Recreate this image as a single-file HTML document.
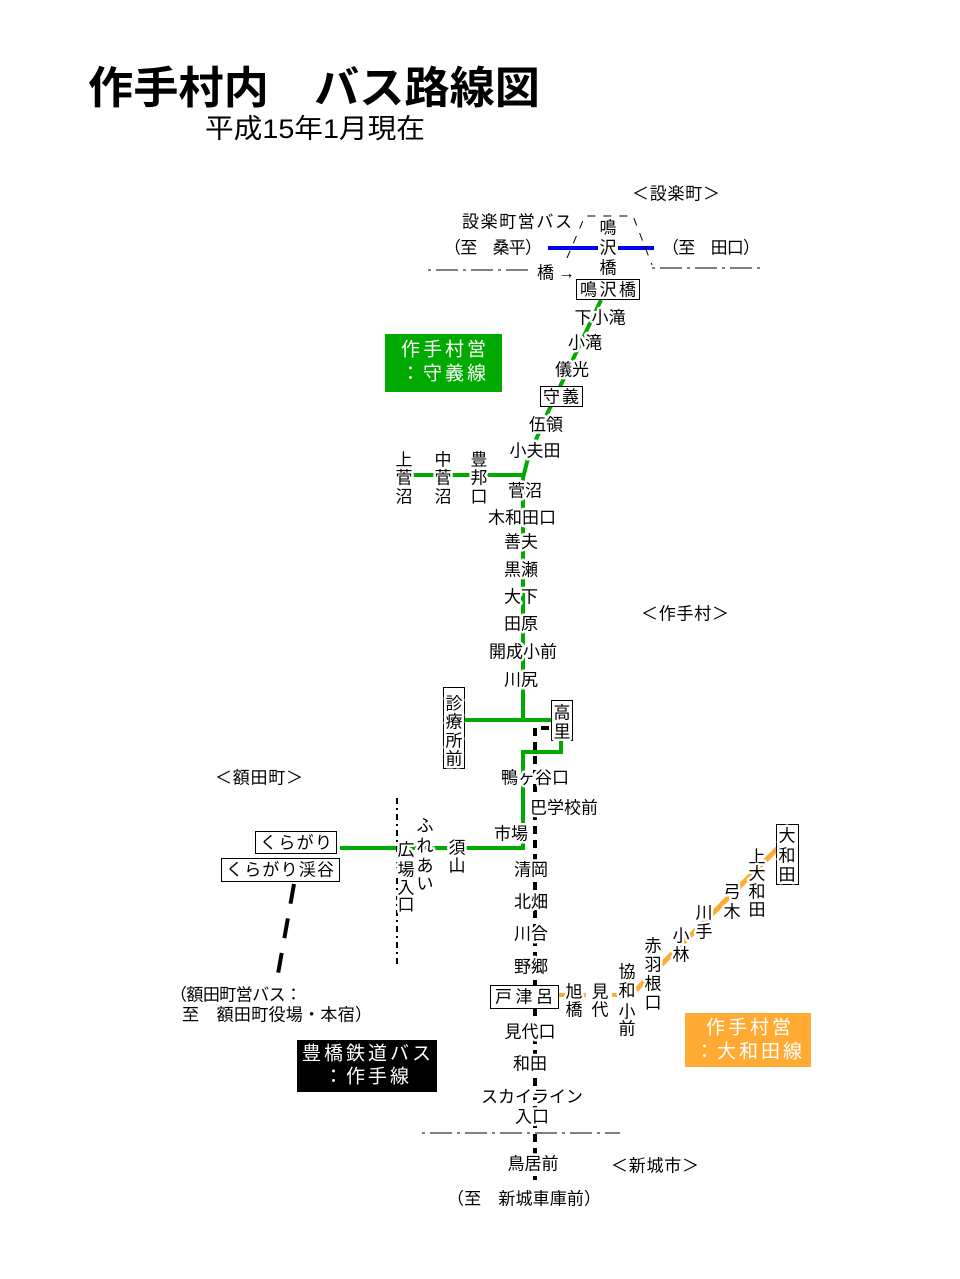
<!DOCTYPE html>
<html><head><meta charset="utf-8"><style>
html,body{margin:0;padding:0;background:#fff;}
svg{display:block;}
text{font-family:"Liberation Sans","Noto Sans CJK JP",sans-serif;fill:#000;}
.l{font-size:17px;text-anchor:middle;dominant-baseline:central;stroke:#fff;stroke-width:5px;paint-order:stroke;stroke-linejoin:round;}
.n{font-size:17px;dominant-baseline:central;}
.w{fill:#fff;font-size:19px;text-anchor:middle;dominant-baseline:central;letter-spacing:3px;}
</style></head><body>
<svg width="960" height="1279" viewBox="0 0 960 1279" xmlns="http://www.w3.org/2000/svg">
<rect width="960" height="1279" fill="#fff"/>
<text x="88" y="103" font-size="44" font-weight="bold" textLength="452" lengthAdjust="spacingAndGlyphs">作手村内　バス路線図</text>
<text x="205" y="138" font-size="27" textLength="220" lengthAdjust="spacingAndGlyphs">平成15年1月現在</text>

<!-- top area -->
<text class="n" x="632" y="194" textLength="88">＜設楽町＞</text>
<text class="n" x="462" y="222" textLength="110">設楽町営バス</text>
<text class="n" x="444" y="248" textLength="98">（至　桑平）</text>
<text class="n" x="662" y="248" textLength="98">（至　田口）</text>
<line x1="548" y1="248" x2="598" y2="248" stroke="#0000ee" stroke-width="4"/>
<line x1="618" y1="248" x2="654" y2="248" stroke="#0000ee" stroke-width="4"/>
<polyline points="567,258 585,216 633,216 652,265" fill="none" stroke="#000" stroke-width="1" stroke-dasharray="8,8"/>
<line x1="652" y1="268" x2="762" y2="268" stroke="#000" stroke-dasharray="3,5,22,5"/>
<line x1="428" y1="270" x2="530" y2="270" stroke="#000" stroke-dasharray="3,5,22,5"/>
<text class="n" x="537" y="273" textLength="38">橋→</text>
<text class="l" x="608" y="228">鳴</text>
<text class="l" x="608" y="248">沢</text>
<text class="l" x="608" y="268">橋</text>

<!-- green line -->
<polyline points="601,300 548,412 528,458 523,478 523,720" fill="none" stroke="#00aa00" stroke-width="4"/>
<line x1="398" y1="475" x2="523" y2="475" stroke="#00aa00" stroke-width="4"/>
<line x1="465" y1="720" x2="552" y2="720" stroke="#00aa00" stroke-width="4"/>
<polyline points="561,740 561,752 523,752 523,848 340,848" fill="none" stroke="#00aa00" stroke-width="4"/>
<!-- black dashed -->
<polyline points="549,728 535,728 535,1180" fill="none" stroke="#000" stroke-width="4" stroke-dasharray="8,6"/>
<line x1="294" y1="884" x2="276" y2="985" stroke="#000" stroke-width="4" stroke-dasharray="20,15"/>
<line x1="397" y1="798" x2="397" y2="965" stroke="#000" stroke-width="2" stroke-dasharray="6,4,2,4"/>
<line x1="422" y1="1133" x2="620" y2="1133" stroke="#000" stroke-dasharray="3,5,22,5"/>
<!-- orange -->
<line x1="558" y1="995" x2="636" y2="995" stroke="#ffaa33" stroke-width="4" stroke-dasharray="10,8"/>
<line x1="636" y1="990" x2="778" y2="848" stroke="#ffaa33" stroke-width="5"/>

<!-- boxes -->
<rect x="576.5" y="279.5" width="63" height="20" fill="#fff" stroke="#000"/>
<text class="n" x="580" y="290" textLength="56">鳴沢橋</text>
<rect x="540.5" y="386.5" width="42" height="20" fill="#fff" stroke="#000"/>
<text class="n" x="543" y="397" textLength="36">守義</text>

<text class="l" x="600" y="318">下小滝</text>
<text class="l" x="585" y="343">小滝</text>
<text class="l" x="572" y="370">儀光</text>
<text class="l" x="546" y="425">伍領</text>
<text class="l" x="535" y="451">小夫田</text>
<text class="l" x="404" y="460">上</text><text class="l" x="404" y="478">菅</text><text class="l" x="404" y="497">沼</text>
<text class="l" x="443" y="460">中</text><text class="l" x="443" y="478">菅</text><text class="l" x="443" y="497">沼</text>
<text class="l" x="479" y="460">豊</text><text class="l" x="479" y="478">邦</text><text class="l" x="479" y="497">口</text>
<text class="l" x="525" y="491">菅沼</text>
<text class="l" x="522" y="518">木和田口</text>
<text class="l" x="521" y="542">善夫</text>
<text class="l" x="521" y="570">黒瀬</text>
<text class="l" x="521" y="597">大下</text>
<text class="l" x="521" y="624">田原</text>
<text class="l" x="523" y="652">開成小前</text>
<text class="l" x="521" y="680">川尻</text>
<rect x="443.5" y="687.5" width="21" height="81" fill="#fff" stroke="#000"/>
<text class="l" x="454" y="704">診</text><text class="l" x="454" y="722">療</text><text class="l" x="454" y="741">所</text><text class="l" x="454" y="759">前</text>
<rect x="551.5" y="700.5" width="21" height="40" fill="#fff" stroke="#000"/>
<text class="l" x="562" y="713">高</text><text class="l" x="562" y="732">里</text>
<text class="l" x="535" y="778">鴨ヶ谷口</text>
<text class="l" x="564" y="808">巴学校前</text>
<text class="l" x="511" y="834">市場</text>
<text class="n" x="641" y="614" textLength="88">＜作手村＞</text>
<text class="n" x="215" y="778" textLength="88">＜額田町＞</text>

<rect x="255.5" y="831.5" width="81" height="22" fill="#fff" stroke="#000"/>
<text class="n" x="260" y="843" textLength="72">くらがり</text>
<rect x="221.5" y="858.5" width="118" height="23" fill="#fff" stroke="#000"/>
<text class="n" x="226" y="870" textLength="108">くらがり渓谷</text>
<text class="l" x="425" y="826">ふ</text><text class="l" x="425" y="846">れ</text><text class="l" x="425" y="866">あ</text><text class="l" x="425" y="884">い</text>
<text class="l" x="406" y="850">広</text><text class="l" x="406" y="870">場</text><text class="l" x="406" y="888">入</text><text class="l" x="406" y="905">口</text>
<text class="l" x="457" y="848">須</text><text class="l" x="457" y="866">山</text>

<text class="l" x="531" y="870">清岡</text>
<text class="l" x="531" y="902">北畑</text>
<text class="l" x="531" y="934">川合</text>
<text class="l" x="531" y="967">野郷</text>
<rect x="490.5" y="985.5" width="68" height="23" fill="#fff" stroke="#000"/>
<text class="n" x="495" y="997" textLength="58">戸津呂</text>
<text class="l" x="530" y="1032">見代口</text>
<text class="l" x="530" y="1064">和田</text>
<text class="l" x="532" y="1097">スカイライン</text>
<text class="l" x="532" y="1117">入口</text>
<text class="l" x="533" y="1164">鳥居前</text>
<text class="n" x="611" y="1166" textLength="88">＜新城市＞</text>
<text class="n" x="447" y="1199" textLength="154">（至　新城車庫前）</text>
<text class="n" x="170" y="995" textLength="132">（額田町営バス：</text>
<text class="n" x="182" y="1015" textLength="190">至　額田町役場・本宿）</text>

<text class="l" x="574" y="992">旭</text><text class="l" x="574" y="1010">橋</text>
<text class="l" x="600" y="992">見</text><text class="l" x="600" y="1010">代</text>
<text class="l" x="627" y="972">協</text><text class="l" x="627" y="991">和</text><text class="l" x="627" y="1012">小</text><text class="l" x="627" y="1029">前</text>
<text class="l" x="653" y="946">赤</text><text class="l" x="653" y="965">羽</text><text class="l" x="653" y="984">根</text><text class="l" x="653" y="1003">口</text>
<text class="l" x="681" y="936">小</text><text class="l" x="681" y="955">林</text>
<text class="l" x="704" y="913">川</text><text class="l" x="704" y="932">手</text>
<text class="l" x="732" y="892">弓</text><text class="l" x="732" y="912">木</text>
<text class="l" x="757" y="857">上</text><text class="l" x="757" y="874">大</text><text class="l" x="757" y="892">和</text><text class="l" x="757" y="910">田</text>
<rect x="776.5" y="824.5" width="22" height="60" fill="#fff" stroke="#000"/>
<text class="l" x="787" y="836">大</text><text class="l" x="787" y="856">和</text><text class="l" x="787" y="875">田</text>

<!-- legends -->
<rect x="385" y="334" width="117" height="58" fill="#00aa00"/>
<text class="w" x="445" y="350">作手村営</text>
<text class="w" x="445" y="374">：守義線</text>
<rect x="297" y="1040" width="140" height="52" fill="#000"/>
<text class="w" x="368" y="1054">豊橋鉄道バス</text>
<text class="w" x="368" y="1077">：作手線</text>
<rect x="685" y="1013" width="126" height="54" fill="#ffaa33"/>
<text class="w" x="750" y="1028">作手村営</text>
<text class="w" x="750" y="1052">：大和田線</text>
</svg>
</body></html>
